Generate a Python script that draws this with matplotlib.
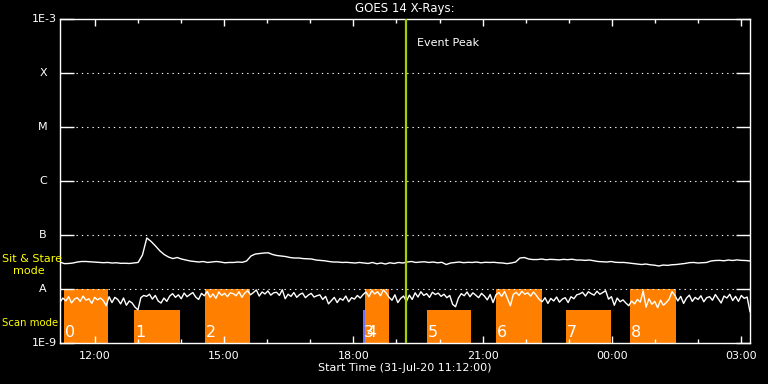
#!/usr/bin/env python3
"""GOES 14 X-ray light curve with scan / sit & stare mode blocks."""

import numpy as np
import matplotlib
matplotlib.use("Agg")
import matplotlib.pyplot as plt

plt.rcParams["font.family"] = ["DejaVu Sans"]

# ---- data -------------------------------------------------------------
# times in hours since 00:00 on 31-Jul-20
t_start = 11.2
t_end = 27.2

# short channel, 4-min cadence, flux in 1e-9 W/m^2
xrs_short = [
    5.7, 6.8, 6.0, 7.2, 5.5, 6.5, 6.9, 5.9, 7.4, 6.2, 6.6, 5.4, 7.0, 6.3, 6.8,
    6.1, 4.9, 7.2, 5.6, 7.0, 6.4, 5.3, 6.8, 5.0, 6.0, 5.5, 4.6, 4.1, 6.9, 7.6,
    7.3, 8.0, 6.5, 7.6, 6.0, 5.5, 6.8, 5.9, 7.4, 8.2, 7.0, 7.8, 6.6, 8.4, 7.2,
    7.9, 8.6, 7.1, 6.4, 8.3, 7.5, 9.0, 7.0, 8.1, 6.7, 8.8, 7.6, 8.3, 7.2, 8.5,
    8.2, 7.5, 8.9, 7.0, 8.4, 9.3, 7.8, 8.6, 9.6, 7.4, 8.8, 8.1, 9.2, 7.7, 8.5,
    8.7, 7.6, 9.7, 6.6, 8.0, 7.3, 8.6, 7.0, 7.9, 8.4, 6.9, 7.7, 8.3, 7.1, 7.5,
    7.8, 6.4, 7.3, 5.3, 6.1, 7.0, 5.6, 6.7, 6.2, 7.4, 5.8, 6.9, 6.5, 7.6, 6.8,
    7.9, 8.8, 7.2, 9.3, 8.1, 8.9, 7.5, 9.6, 8.4, 7.0, 6.2, 7.8, 5.6, 6.7, 7.4,
    5.9, 7.7, 6.4, 8.5, 7.1, 8.9, 7.6, 8.2, 7.0, 8.7, 7.9, 8.4, 7.3, 8.0, 6.9,
    7.6, 5.2, 4.7, 6.8, 8.2, 7.5, 8.8, 7.2, 8.5, 7.7, 6.9, 8.3, 7.4, 6.3, 7.9,
    5.6, 7.8, 8.6, 7.3, 9.0, 6.6, 4.9, 7.9, 8.7, 7.6, 9.1, 8.0, 8.5, 7.4, 8.8,
    7.6, 6.4, 5.8, 6.9, 5.4, 6.7, 6.0, 7.1, 5.7, 6.5, 6.9, 5.6, 7.2, 6.6, 7.8,
    8.1, 8.7, 7.4, 8.9, 8.2, 7.7, 9.1, 8.0, 8.6, 9.3, 6.5, 7.2, 5.0, 6.8, 5.8,
    6.3, 5.5, 4.9, 6.0, 5.3, 6.4, 5.7, 9.2, 4.6, 6.6, 5.2, 5.9, 4.5, 6.2, 5.0,
    5.6, 6.5, 8.9, 7.6, 6.0, 7.3, 5.4, 6.8, 7.7, 5.9, 7.0, 6.4, 7.5, 5.8, 6.9,
    7.2, 6.2, 7.9, 6.6, 5.5, 7.4, 6.8, 8.0, 6.1, 7.3, 5.9, 7.6, 6.7, 7.1, 3.8,
]

# long channel, 6-min cadence, flux in 1e-9 W/m^2
xrs_long = [
    31.6, 29.5, 29.7, 30.3, 31.6, 32.3, 32.3, 31.9, 31.6, 31.0,
    30.7, 31.0, 30.3, 30.6, 29.9, 30.0, 29.7, 30.3, 31.0, 42.6,
    88.1, 75.9, 62.6, 51.0, 43.5, 39.1, 36.6, 38.3, 35.9, 34.4,
    33.0, 32.3, 31.6, 32.3, 31.0, 31.6, 32.3, 31.6, 30.6, 31.0,
    31.0, 31.6, 31.2, 33.0, 40.8, 44.4, 45.4, 46.4, 46.8, 43.5,
    41.7, 40.8, 39.9, 38.3, 37.5, 37.5, 36.6, 36.3, 35.9, 34.4,
    33.9, 33.3, 32.3, 31.6, 31.6, 31.0, 31.2, 30.7, 30.3, 31.0,
    30.3, 29.7, 31.0, 29.3, 30.3, 29.0, 30.6, 29.7, 31.0, 30.3,
    31.6, 32.3, 31.0, 31.6, 31.9, 31.0, 31.6, 30.6, 31.2, 28.4,
    30.3, 31.0, 31.6, 30.7, 31.2, 31.0, 31.6, 30.6, 31.2, 31.0,
    31.2, 30.6, 30.3, 29.5, 30.3, 31.6, 37.5, 38.3, 35.9, 35.1,
    35.1, 35.9, 34.8, 35.4, 35.1, 34.6, 35.4, 34.9, 35.6, 34.4,
    34.4, 33.9, 34.4, 33.3, 32.3, 31.9, 31.6, 32.3, 31.2, 31.0,
    31.0, 30.3, 29.7, 29.0, 28.4, 29.0, 28.1, 27.6, 26.7, 27.8,
    27.4, 28.1, 28.4, 29.0, 29.7, 30.7, 31.0, 30.3, 30.7, 31.0,
    33.0, 33.7, 33.9, 33.3, 34.4, 33.7, 34.6, 33.9, 33.7, 33.0,
]

# observing blocks
scan_labels = ["0", "1", "2", "3", "4", "5", "6", "7", "8"]
scan_start = [11.29, 12.92, 14.56, 18.23, 18.27, 19.71, 21.31, 22.93, 24.42]
scan_end = [12.31, 13.98, 15.61, 18.27, 18.83, 20.73, 22.37, 23.98, 25.48]
scan_top = [1e-8, 4.1e-9, 1e-8, 4.1e-9, 1e-8, 4.1e-9, 1e-8, 4.1e-9, 1e-8]
scan_colors = ["#ff8000", "#ff8000", "#ff8000", "#7070ff", "#ff8000",
               "#ff8000", "#ff8000", "#ff8000", "#ff8000"]

event_peak = 19.223

class_levels = [1e-9, 1e-8, 1e-7, 1e-6, 1e-5, 1e-4, 1e-3]
class_labels = ["1E-9", "A", "B", "C", "M", "X", "1E-3"]

hour_major = [12, 15, 18, 21, 24, 27]
hour_labels = ["12:00", "15:00", "18:00", "21:00", "00:00", "03:00"]
hour_minor = list(range(12, 28))

# ---- plot -------------------------------------------------------------
fig = plt.figure(figsize=(7.68, 3.84), dpi=100, facecolor="black")
ax = fig.add_axes([60 / 768, 41 / 384, 690 / 768, 324 / 384], facecolor="black")

t_short = t_start + np.arange(len(xrs_short)) * (t_end - t_start) / (len(xrs_short) - 1)
t_long = t_start + np.arange(len(xrs_long)) * (t_end - t_start) / (len(xrs_long) - 1)

ax.set_yscale("log")
ax.set_xlim(t_start, t_end)
ax.set_ylim(1e-9, 1e-3)

# mode blocks
for s, e, top, c in zip(scan_start, scan_end, scan_top, scan_colors):
    ax.bar(s, top - 1e-9, width=e - s, bottom=1e-9, align="edge",
           color=c, linewidth=0, zorder=1)
for lab, s in zip(scan_labels, scan_start):
    ax.text(s + 0.02, 1.13e-9, lab, color="white", fontsize=11.5,
            ha="left", va="bottom", zorder=5)

# dotted class lines
for lev in class_levels[1:-1]:
    ax.axhline(lev, color="white", lw=0.8, ls=(0, (1.2, 3.6)), zorder=1.5)

ax.plot(t_long, np.array(xrs_long) * 1e-9, color="white", lw=1, zorder=3)
ax.plot(t_short, np.array(xrs_short) * 1e-9, color="white", lw=1, zorder=3)

ax.axvline(event_peak, color="#a0d000", lw=1.6, zorder=4)
ax.text(event_peak + 0.25, 10 ** (-3 - 24 / 54), "Event Peak", color="white",
        fontsize=8, ha="left", va="center")

# axes styling
for sp in ax.spines.values():
    sp.set_color("white")
    sp.set_linewidth(1)

ax.set_xticks(hour_major)
ax.set_xticklabels(hour_labels)
ax.set_xticks(hour_minor, minor=True)
ax.tick_params(axis="x", which="major", direction="in", length=5, width=1,
               color="white", labelcolor="white", labelsize=8, top=True, pad=6)
ax.tick_params(axis="x", which="minor", direction="in", length=3.2, width=1,
               color="white", top=True)

ax.set_yticks(class_levels)
ax.yaxis.set_minor_locator(matplotlib.ticker.NullLocator())
ax.set_yticklabels([])
ax.tick_params(axis="y", which="major", direction="in", length=10, width=1,
               color="white", right=True)

ytrans = ax.get_yaxis_transform()
for lev, lab in zip(class_levels, class_labels):
    if len(lab) > 1:
        ax.text(-0.0045, lev, lab, transform=ytrans, color="white",
                fontsize=8, ha="right", va="center")
    else:
        ax.text(-0.0246, lev, lab, transform=ytrans, color="white",
                fontsize=8, ha="center", va="center")

ax.set_title("GOES 14 X-Rays:", color="white", fontsize=8.5, pad=5)
ax.set_xlabel("Start Time (31-Jul-20 11:12:00)", color="white", fontsize=8,
              labelpad=1)

# mode labels on the left
fig.text(2 / 768, 1 - 259 / 384, "Sit & Stare", color="yellow", fontsize=8,
         ha="left", va="center")
fig.text(13 / 768, 1 - 271 / 384, "mode", color="yellow", fontsize=8,
         ha="left", va="center")
fig.text(2 / 768, 1 - 323 / 384, "Scan mode", color="yellow", fontsize=7.3,
         ha="left", va="center")

fig.savefig("out.png", dpi=100, facecolor="black")
